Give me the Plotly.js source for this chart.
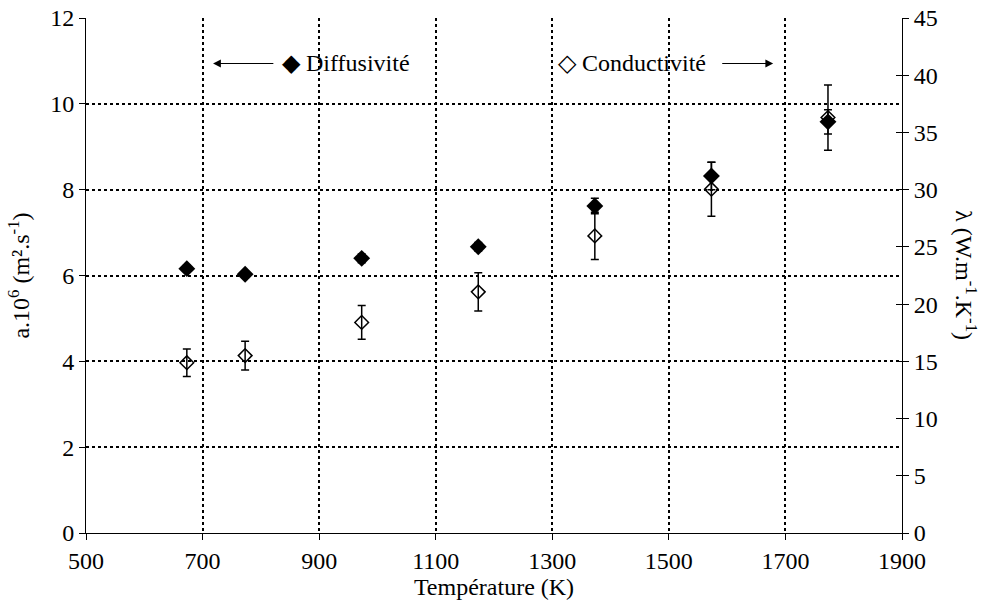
<!DOCTYPE html>
<html>
<head>
<meta charset="utf-8">
<script src="https://cdn.plot.ly/plotly-3.0.1.min.js"></script>
<style>
html,body{margin:0;padding:0;background:#fff;}
#chart{width:982px;height:611px;}
</style>
</head>
<body>
<div id="chart"></div>
<script>
const temperature = [673, 773, 973, 1173, 1373, 1573, 1773];
const diffusivite = [6.16, 6.03, 6.40, 6.67, 7.62, 8.32, 9.58];
const diffusiviteErr = [0.08, 0.08, 0.10, 0.10, 0.18, 0.32, 0.28];
const conductivite = [14.88, 15.5, 18.4, 21.07, 25.96, 30.04, 36.3];
const conductiviteErr = [1.2, 1.25, 1.47, 1.68, 2.07, 2.36, 2.85];
const xTicks = [500, 700, 900, 1100, 1300, 1500, 1700, 1900];
const yLeftTicks = [0, 2, 4, 6, 8, 10, 12];
const yRightTicks = [0, 5, 10, 15, 20, 25, 30, 35, 40, 45];

const FAMILY = 'Liberation Serif, Times New Roman, serif';
function f(s) { return {family: FAMILY, size: s || 24, color: '#000'}; }

const traces = [
  {
    x: temperature, y: conductivite, xaxis: 'x', yaxis: 'y2', type: 'scatter', mode: 'markers',
    name: 'Conductivité',
    marker: {symbol: 'diamond-open', size: 10.5, color: '#000', line: {width: 1.5, color: '#000'}},
    error_y: {type: 'data', array: conductiviteErr, visible: true, color: '#000', thickness: 1.5, width: 4}
  },
  {
    x: temperature, y: diffusivite, xaxis: 'x', yaxis: 'y', type: 'scatter', mode: 'markers',
    name: 'Diffusivité',
    marker: {symbol: 'diamond', size: 13, color: '#000'},
    error_y: {type: 'data', array: diffusiviteErr, visible: true, color: '#000', thickness: 1.5, width: 4}
  },
  {x: [500], y: [0], xaxis: 'x', yaxis: 'y3', mode: 'markers', marker: {opacity: 0}, showlegend: false, hoverinfo: 'skip'}
];

const layout = {
  width: 982, height: 611,
  margin: {l: 86, r: 80, t: 18, b: 78},
  paper_bgcolor: '#fff', plot_bgcolor: '#fff',
  font: f(),
  showlegend: false,
  xaxis: {
    range: [500, 1900], tickvals: xTicks, ticktext: xTicks.map(String),
    showline: true, linecolor: '#000', linewidth: 1,
    ticks: 'outside', ticklen: 6, tickcolor: '#000', tickwidth: 1,
    showgrid: true, gridcolor: '#000', gridwidth: 2, griddash: 'dot',
    zeroline: false, tickfont: f(),
    title: {text: 'Température (K)', font: f(), standoff: 5}
  },
  yaxis: {
    range: [0, 12], tickvals: yLeftTicks,
    showline: true, linecolor: '#000', linewidth: 1,
    ticks: 'outside', ticklen: 6, tickcolor: '#000', tickwidth: 1,
    showgrid: true, gridcolor: '#000', gridwidth: 2, griddash: 'dot',
    zeroline: false, tickfont: f(),
    title: {text: 'a.10<sup>6</sup> (m².s<sup>-1</sup>)', font: f(), standoff: 13}
  },
  yaxis2: {
    range: [0, 45], tickvals: yRightTicks, overlaying: 'y', side: 'right', anchor: 'x',
    showline: true, linecolor: '#000', linewidth: 1,
    ticks: 'outside', ticklen: 6, tickcolor: '#000', tickwidth: 1,
    showgrid: false, zeroline: false, tickfont: f()
  },
  yaxis3: {
    range: [0, 45], tickvals: yRightTicks, overlaying: 'y', side: 'right', anchor: 'x',
    showline: false, ticks: 'inside', ticklen: 6, tickcolor: '#000', tickwidth: 1,
    showticklabels: false, showgrid: false, zeroline: false
  },
  annotations: [
    {xref: 'paper', yref: 'paper', x: 1.079, y: 0.5, text: 'λ (W.m<sup>-1</sup>.K<sup>-1</sup>)',
     textangle: 90, showarrow: false, font: f(), xanchor: 'center', yanchor: 'middle'},
    {xref: 'x', yref: 'y', x: 832, y: 10.94, text: '◆ Diffusivité', showarrow: false,
     xanchor: 'left', yanchor: 'middle', font: f()},
    {xref: 'x', yref: 'y', x: 1306, y: 10.94, text: '◇ Conductivité', showarrow: false,
     xanchor: 'left', yanchor: 'middle', font: f()},
    {xref: 'x', yref: 'y', axref: 'x', ayref: 'y', x: 718, y: 10.94, ax: 824, ay: 10.94,
     text: '', showarrow: true, arrowhead: 2, arrowsize: 1.3, arrowwidth: 1.2, arrowcolor: '#000'},
    {xref: 'x', yref: 'y', axref: 'x', ayref: 'y', x: 1679, y: 10.94, ax: 1589, ay: 10.94,
     text: '', showarrow: true, arrowhead: 2, arrowsize: 1.3, arrowwidth: 1.2, arrowcolor: '#000'}
  ]
};

Plotly.newPlot('chart', traces, layout, {staticPlot: true});
</script>
</body>
</html>
